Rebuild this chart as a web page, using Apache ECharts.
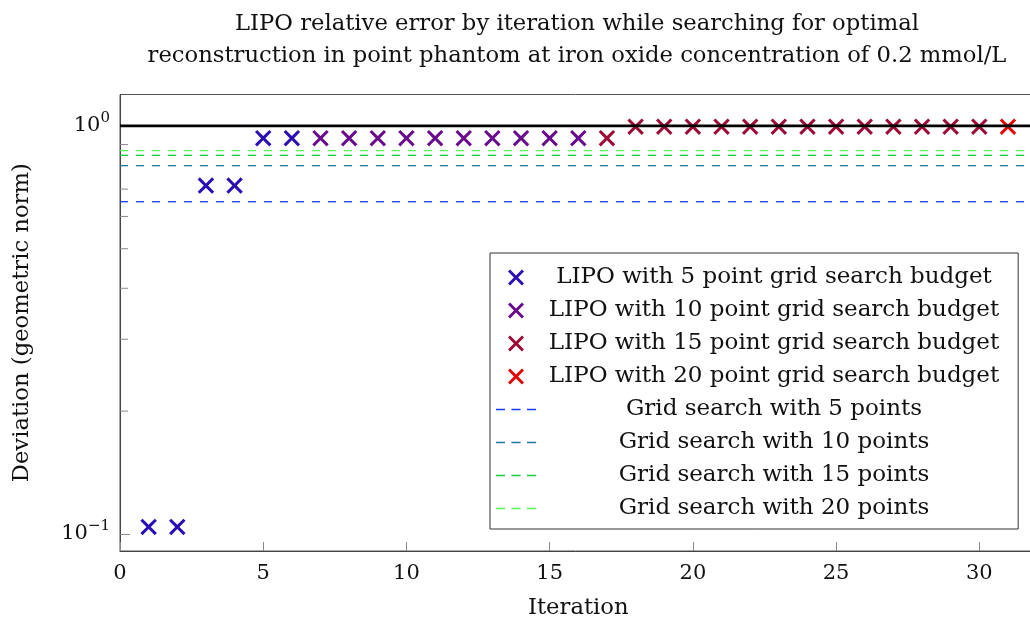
<!DOCTYPE html>
<html>
<head>
<meta charset="utf-8">
<script src="https://cdn.jsdelivr.net/npm/echarts@6/dist/echarts.min.js"></script>
<style>
  html, body { margin: 0; padding: 0; background: #fff; }
  #chart { width: 1030px; height: 619px; }
</style>
</head>
<body>
<div id="chart"></div>
<script>
// Axis ranges
const X_MIN = 0, X_MAX = 32, X_STEP = 5;
const Y_MIN = 0.0908, Y_MAX = 1.194;

// LIPO runs: [iteration, deviation]
const lipo5 = [[1, 0.104], [2, 0.104], [3, 0.714], [4, 0.714], [5, 0.933], [6, 0.933]];
const lipo10 = [[7, 0.933], [8, 0.933], [9, 0.933], [10, 0.933], [11, 0.933], [12, 0.933], [13, 0.933], [14, 0.933], [15, 0.933], [16, 0.933]];
const lipo15 = [[17, 0.933], [18, 0.996], [19, 0.996], [20, 0.996], [21, 0.996], [22, 0.996], [23, 0.996], [24, 0.996], [25, 0.996], [26, 0.996], [27, 0.996], [28, 0.996], [29, 0.996], [30, 0.996]];
const lipo20 = [[31, 0.996]];

// Grid search results (constant deviation)
const grid5 = 0.652;
const grid10 = 0.799;
const grid15 = 0.847;
const grid20 = 0.870;

// Reference level
const refLevel = 1.0;

// Minor tick positions on the log axis
const minorTicks = [0.2, 0.3, 0.4, 0.5, 0.6, 0.7, 0.8, 0.9];

const lipoNames = [
  'LIPO with 5 point grid search budget',
  'LIPO with 10 point grid search budget',
  'LIPO with 15 point grid search budget',
  'LIPO with 20 point grid search budget'
];
const gridNames = [
  'Grid search with 5 points',
  'Grid search with 10 points',
  'Grid search with 15 points',
  'Grid search with 20 points'
];
const titleLines = [
  'LIPO relative error by iteration while searching for optimal',
  'reconstruction in point phantom at iron oxide concentration of 0.2 mmol/L'
];

const FONT = '"DejaVu Serif", "Liberation Serif", serif';
const FS = 22.7;      // title / axis name size
const FS_LEG = 23;    // legend text size
const FS_TICK = 21;   // tick label size
const CROSS = 'path://M0,1.3L1.3,0L5,3.7L8.7,0L10,1.3L6.3,5L10,8.7L8.7,10L5,6.3L1.3,10L0,8.7L3.7,5Z';
const DASHES = 'path://M0,0h9v1.3h-9zM15.5,0h9v1.3h-9zM31,0h9v1.3h-9z';
const lipoColors = ['#2a0db4', '#690c8c', '#9c0b35', '#e60505'];
const gridColors = ['#1a3ce8', '#1f7a9c', '#18cc3c', '#55f555'];

const chart = echarts.init(document.getElementById('chart'), null, { renderer: 'canvas' });

function hline(name, v, color) {
  return {
    name: name, type: 'line', symbol: 'none', showSymbol: false, silent: true,
    data: [[X_MIN, v], [X_MAX, v]],
    lineStyle: { color: color, width: 1.3, type: [8, 8] },
    itemStyle: { color: color },
    z: 1
  };
}

function scatter(name, data, color) {
  return {
    name: name, type: 'scatter', data: data,
    symbol: CROSS, symbolSize: 16.5,
    itemStyle: { color: color, opacity: 1 },
    z: 2
  };
}

const option = {
  animation: false,
  backgroundColor: '#fff',
  textStyle: { fontFamily: FONT },
  graphic: [
    { type: 'text', x: 577, y: 24, style: { text: titleLines[0], font: FS + 'px ' + FONT, fill: '#111', align: 'center', verticalAlign: 'middle' } },
    { type: 'text', x: 577, y: 56.5, style: { text: titleLines[1], font: FS + 'px ' + FONT, fill: '#111', align: 'center', verticalAlign: 'middle' } }
  ],
  grid: {
    left: 120, top: 94.5, width: 916.6, height: 456.5,
    containLabel: false, outerBoundsMode: 'none',
    show: true, borderColor: '#555', borderWidth: 1, backgroundColor: 'transparent'
  },
  legend: {
    orient: 'vertical', left: 490, top: 253,
    padding: [13, 19, 9, 6],
    itemWidth: 40, itemHeight: 16, itemGap: 10,
    backgroundColor: '#fff', borderColor: '#333', borderWidth: 1,
    data: [
      { name: lipoNames[0], icon: CROSS },
      { name: lipoNames[1], icon: CROSS },
      { name: lipoNames[2], icon: CROSS },
      { name: lipoNames[3], icon: CROSS },
      { name: gridNames[0], icon: DASHES },
      { name: gridNames[1], icon: DASHES },
      { name: gridNames[2], icon: DASHES },
      { name: gridNames[3], icon: DASHES }
    ],
    formatter: function (n) { return '{t|' + n + '}'; },
    textStyle: {
      rich: { t: { width: 466, align: 'center', fontSize: FS_LEG, fontFamily: FONT, color: '#111' } }
    }
  },
  xAxis: {
    type: 'value', min: X_MIN, max: X_MAX, interval: X_STEP,
    name: 'Iteration', nameLocation: 'middle', nameGap: 46,
    nameTextStyle: { fontSize: FS, fontFamily: FONT, color: '#111' },
    axisLine: { show: true, onZero: false, lineStyle: { color: '#444', width: 1 } },
    axisTick: { show: true, inside: true, length: 9, lineStyle: { color: '#888' } },
    axisLabel: { fontSize: FS_TICK, fontFamily: FONT, color: '#111', margin: 12, showMaxLabel: false },
    splitLine: { show: false }
  },
  yAxis: {
    type: 'log', logBase: 10, min: Y_MIN, max: Y_MAX,
    name: 'Deviation (geometric norm)', nameLocation: 'middle', nameGap: 86, nameRotate: 90,
    nameTextStyle: { fontSize: FS, fontFamily: FONT, color: '#111' },
    axisLine: { show: true, lineStyle: { color: '#444', width: 1 } },
    axisTick: { show: true, inside: true, length: 10, lineStyle: { color: '#888' } },
    axisLabel: {
      margin: 10, showMinLabel: false, showMaxLabel: false,
      formatter: function (v) {
        const e = Math.round(Math.log10(v));
        if (Math.abs(Math.log10(v) - e) > 1e-6) return '';
        return '{b|10}{s|' + (e < 0 ? '\u2212' + (-e) : e) + '}';
      },
      rich: {
        b: { fontSize: FS_TICK, fontFamily: FONT, color: '#111', lineHeight: 30 },
        s: { fontSize: 15, fontFamily: FONT, color: '#111', verticalAlign: 'top', lineHeight: 18 }
      }
    },
    splitLine: { show: false }
  },
  series: [
    hline(gridNames[0], grid5, gridColors[0]),
    hline(gridNames[1], grid10, gridColors[1]),
    hline(gridNames[2], grid15, gridColors[2]),
    hline(gridNames[3], grid20, gridColors[3]),
    scatter(lipoNames[0], lipo5, lipoColors[0]),
    scatter(lipoNames[1], lipo10, lipoColors[1]),
    scatter(lipoNames[2], lipo15, lipoColors[2]),
    scatter(lipoNames[3], lipo20, lipoColors[3]),
    {
      name: 'reference', type: 'line', symbol: 'none', silent: true,
      data: [[X_MIN, refLevel], [X_MAX, refLevel]],
      lineStyle: { color: '#000', width: 2.6 },
      z: 3
    },
    {
      name: 'minor ticks', type: 'custom', silent: true,
      data: minorTicks.map(function (v) { return [X_MIN, v]; }),
      renderItem: function (params, api) {
        const p = api.coord([api.value(0), api.value(1)]);
        return {
          type: 'line',
          shape: { x1: p[0], y1: p[1], x2: p[0] + 8, y2: p[1] },
          style: { stroke: '#888', lineWidth: 1 }
        };
      },
      z: 1
    }
  ]
};

chart.setOption(option);
</script>
</body>
</html>
